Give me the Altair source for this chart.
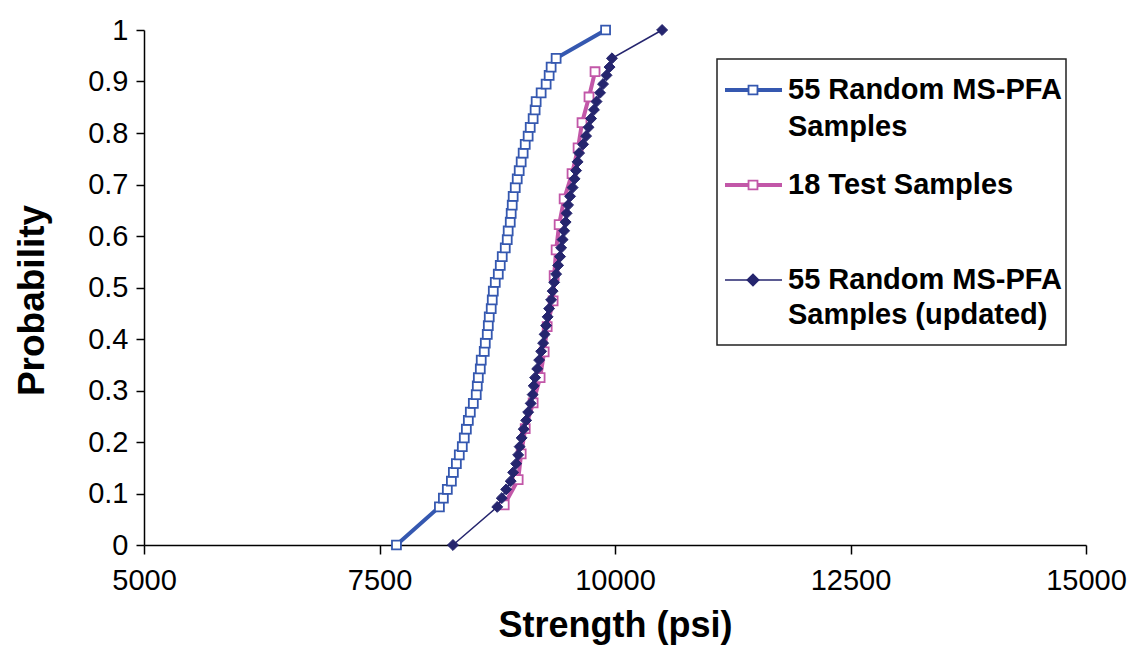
import altair as alt
import pandas as pd

# ---- data ----
prob_55 = [0, 0.074, 0.091, 0.108, 0.124, 0.141, 0.158, 0.175, 0.191, 0.208, 0.225,
           0.242, 0.258, 0.275, 0.292, 0.309, 0.325, 0.342, 0.359, 0.376, 0.392,
           0.409, 0.426, 0.443, 0.459, 0.476, 0.493, 0.510, 0.526, 0.543, 0.560,
           0.577, 0.593, 0.610, 0.627, 0.644, 0.660, 0.677, 0.694, 0.711, 0.727,
           0.744, 0.761, 0.778, 0.794, 0.811, 0.828, 0.845, 0.861, 0.878, 0.895,
           0.912, 0.928, 0.945, 1.0]

strength_random = [7680, 8136, 8178, 8220, 8263, 8284, 8316, 8347, 8379, 8400, 8422,
                   8443, 8464, 8496, 8527, 8538, 8549, 8570, 8580, 8612, 8623,
                   8644, 8655, 8665, 8686, 8697, 8708, 8729, 8761, 8782, 8803,
                   8835, 8856, 8866, 8888, 8898, 8909, 8919, 8941, 8962, 8983,
                   9004, 9025, 9047, 9078, 9100, 9131, 9152, 9163, 9216, 9269,
                   9301, 9322, 9375, 9900]

strength_updated = [8280, 8750, 8798, 8845, 8893, 8919, 8951, 8972, 8988, 9009, 9031,
                    9057, 9078, 9105, 9126, 9137, 9152, 9174, 9195, 9216, 9237,
                    9253, 9269, 9285, 9301, 9322, 9338, 9354, 9375, 9396, 9417,
                    9428, 9444, 9460, 9476, 9486, 9502, 9523, 9550, 9571, 9587,
                    9603, 9619, 9661, 9693, 9719, 9746, 9777, 9804, 9841, 9873,
                    9910, 9942, 9968, 10500]

prob_test = [0.078, 0.127, 0.177, 0.226, 0.276, 0.325, 0.375, 0.424, 0.474,
             0.523, 0.573, 0.622, 0.672, 0.721, 0.771, 0.820, 0.870, 0.919]
strength_test = [8824, 8972, 9004, 9047, 9131, 9205, 9248, 9280, 9343,
                 9354, 9375, 9407, 9460, 9544, 9608, 9650, 9724, 9788]

x_ticks = [5000, 7500, 10000, 12500, 15000]
y_ticks = [0, 0.1, 0.2, 0.3, 0.4, 0.5, 0.6, 0.7, 0.8, 0.9, 1]

legend_labels = ["55 Random MS-PFA", "Samples", "18 Test Samples",
                 "55 Random MS-PFA", "Samples (updated)"]

BLUE = "#3558B0"
PINK = "#C257A8"
NAVY = "#25256E"
FONT = "Liberation Sans"

df_random = pd.DataFrame({"strength": strength_random, "prob": prob_55})
df_updated = pd.DataFrame({"strength": strength_updated, "prob": prob_55})
df_test = pd.DataFrame({"strength": strength_test, "prob": prob_test})

x_enc = alt.X("strength:Q",
              scale=alt.Scale(domain=[5000, 15000], nice=False, zero=False),
              axis=alt.Axis(values=x_ticks, grid=False, title="Strength (psi)",
                            format="d", labelFont=FONT, labelFontSize=29,
                            labelColor="black", labelPadding=12, tickSize=9,
                            tickColor="black", domainColor="black", domainWidth=1.5,
                            tickWidth=1.5,
                            titleFont=FONT, titleFontSize=36, titleFontWeight="bold",
                            titleColor="black", titleX=471, titleY=80,
                            titleBaseline="middle", titleAlign="center",
                            labelFlush=False))
y_enc = alt.Y("prob:Q",
              scale=alt.Scale(domain=[0, 1], nice=False),
              axis=alt.Axis(values=y_ticks, grid=False, title="Probability",
                            format="~g", labelFont=FONT, labelFontSize=29,
                            labelColor="black", labelPadding=8, tickSize=8,
                            tickColor="black", domainColor="black", domainWidth=1.5,
                            tickWidth=1.5,
                            titleFont=FONT, titleFontSize=37, titleFontWeight="bold",
                            titleColor="black", titleX=-112, titleY=270,
                            titleAngle=270, titleBaseline="middle",
                            titleAlign="center", labelFlush=False))


def series(df, color, width, shape, fill, size, stroke_w):
    base = alt.Chart(df).encode(x=x_enc, y=y_enc)
    line = base.mark_line(color=color, strokeWidth=width)
    pts = base.mark_point(shape=shape, filled=True, fill=fill, stroke=color,
                          strokeWidth=stroke_w, size=size, opacity=1)
    return line + pts


blue = series(df_random, BLUE, 4, "square", "white", 80, 1.8)
pink = series(df_test, PINK, 4, "square", "white", 80, 1.8)
navy = series(df_updated, NAVY, 1.5, "diamond", NAVY, 120, 1)

dummy = pd.DataFrame({"k": [0]})

legend_box = alt.Chart(dummy).mark_rect(fill="white", stroke="#222222",
                                        strokeWidth=1.5).encode(
    x=alt.value(573), x2=alt.value(922), y=alt.value(29), y2=alt.value(315))


def leg_symbol(yp, color, width, shape, fill, size):
    r = alt.Chart(dummy).mark_rule(color=color, strokeWidth=width).encode(
        x=alt.value(581), x2=alt.value(638), y=alt.value(yp))
    p = alt.Chart(dummy).mark_point(shape=shape, filled=True, fill=fill, stroke=color,
                                    strokeWidth=1.8, size=size, opacity=1).encode(
        x=alt.value(609), y=alt.value(yp))
    return r + p


def leg_text(label, yp):
    return alt.Chart(dummy).mark_text(align="left", baseline="middle", font=FONT,
                                      fontSize=29, fontWeight="bold",
                                      color="black").encode(
        x=alt.value(644), y=alt.value(yp), text=alt.value(label))


legend = (legend_box
          + leg_symbol(60, BLUE, 4, "square", "white", 80)
          + leg_symbol(155, PINK, 4, "square", "white", 80)
          + leg_symbol(250, NAVY, 1.5, "diamond", NAVY, 120)
          + leg_text(legend_labels[0], 60)
          + leg_text(legend_labels[1], 97)
          + leg_text(legend_labels[2], 155)
          + leg_text(legend_labels[3], 250)
          + leg_text(legend_labels[4], 285))

chart = alt.layer(blue, pink, navy, legend).properties(
    width=942, height=515,
    padding={"left": 136, "top": 22, "right": 42, "bottom": 100},
    autosize=alt.AutoSizeParams(type="none"),
    background="white",
).configure_view(strokeWidth=0)

chart.save("out.html", embed_options={"renderer": "svg", "actions": False})
